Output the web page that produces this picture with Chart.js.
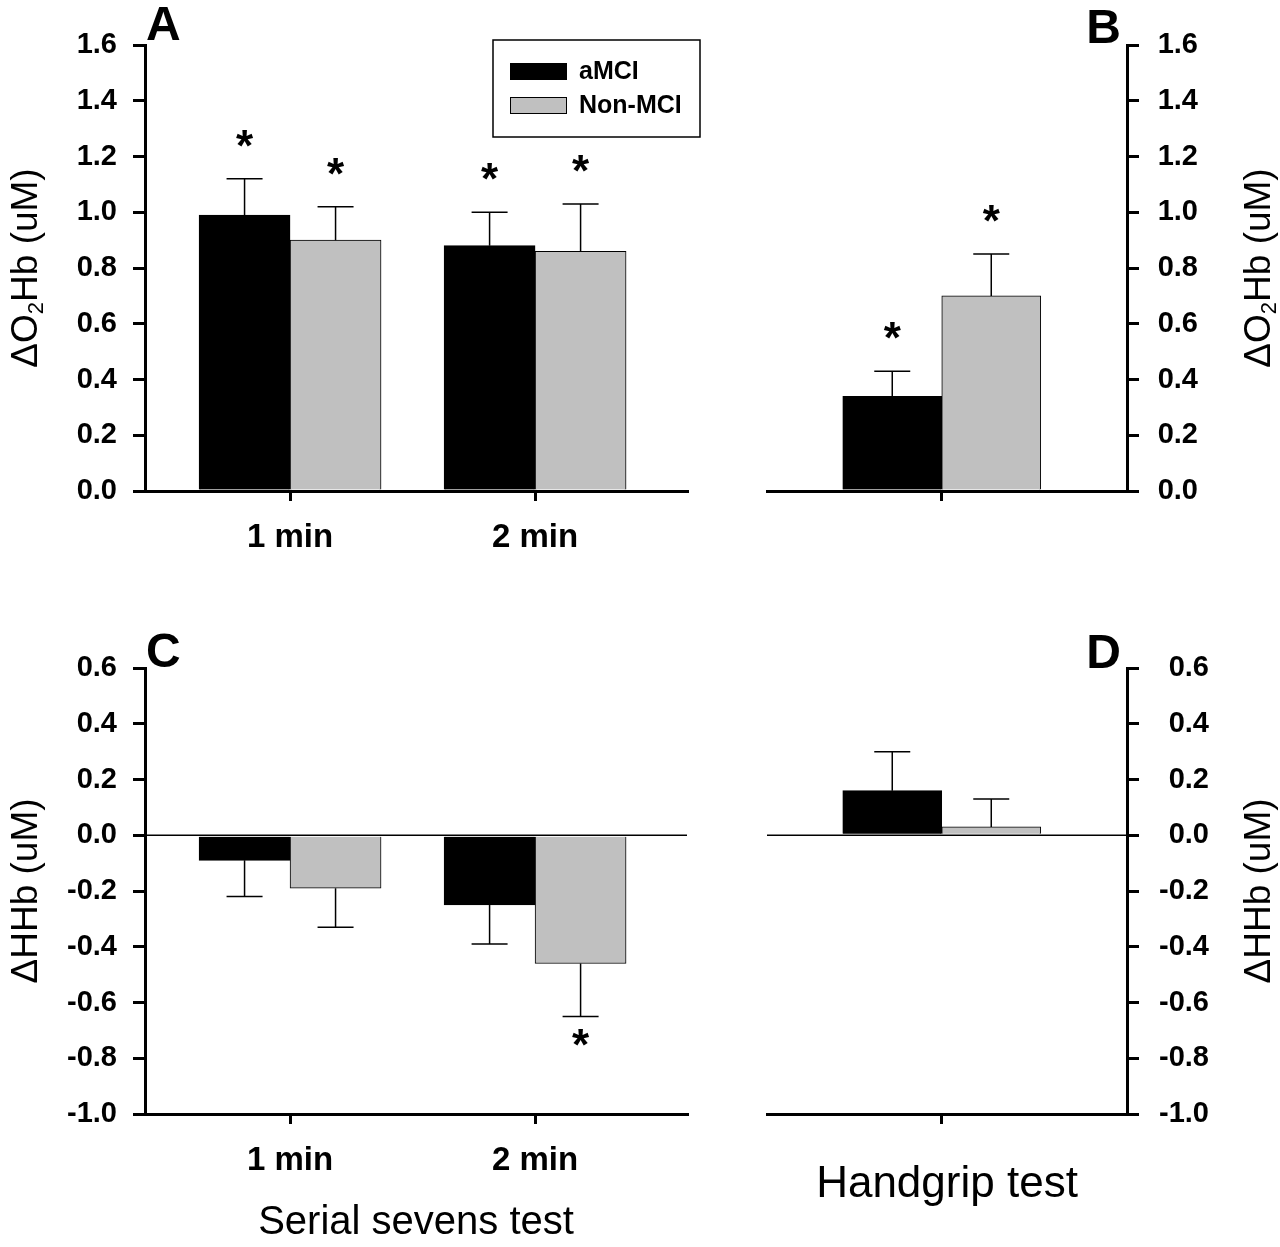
<!DOCTYPE html>
<html>
<head>
<meta charset="utf-8">
<script src="https://cdn.jsdelivr.net/npm/chart.js@4.4.0/dist/chart.umd.min.js"></script>
<style>
  body { margin: 0; background: #fff; }
  canvas { position: absolute; }
</style>
</head>
<body>
<canvas id="chartA" width="740" height="600" style="left:0;top:0"></canvas>
<canvas id="chartB" width="540" height="600" style="left:740px;top:0"></canvas>
<canvas id="chartC" width="740" height="647" style="left:0;top:600px"></canvas>
<canvas id="chartD" width="540" height="647" style="left:740px;top:600px"></canvas>
<script>
// groups
const groupNames = ['aMCI', 'Non-MCI'];
const groupColors = ['#000000', '#c0c0c0'];

// x categories
const serialLabels = ['1 min', '2 min'];
const serialPos = [1, 2];
const gripLabels = [''];
const gripPos = [1];

// y tick ranges
const o2Range = [0, 1.6];
const hhbRange = [-1.0, 0.6];
const tickStep = 0.2;

// A: ΔO2Hb, serial sevens test
const o2SerialAmci = [0.99, 0.88];
const o2SerialAmciSE = [0.13, 0.12];
const o2SerialAmciStar = [true, true];
const o2SerialNon = [0.90, 0.86];
const o2SerialNonSE = [0.12, 0.17];
const o2SerialNonStar = [true, true];

// B: ΔO2Hb, handgrip test
const o2GripAmci = [0.34];
const o2GripAmciSE = [0.09];
const o2GripAmciStar = [true];
const o2GripNon = [0.70];
const o2GripNonSE = [0.15];
const o2GripNonStar = [true];

// C: ΔHHb, serial sevens test
const hhbSerialAmci = [-0.09, -0.25];
const hhbSerialAmciSE = [0.13, 0.14];
const hhbSerialAmciStar = [false, false];
const hhbSerialNon = [-0.19, -0.46];
const hhbSerialNonSE = [0.14, 0.19];
const hhbSerialNonStar = [false, true];

// D: ΔHHb, handgrip test
const hhbGripAmci = [0.16];
const hhbGripAmciSE = [0.14];
const hhbGripAmciStar = [false];
const hhbGripNon = [0.03];
const hhbGripNonSE = [0.10];
const hhbGripNonStar = [false];

// texts
const o2Title = [{ t: 'ΔO' }, { t: '2', sub: true }, { t: 'Hb (uM)' }];
const hhbTitle = [{ t: 'ΔHHb (uM)' }];
const serialTitle = 'Serial sevens test';
const gripTitle = 'Handgrip test';

const FONT = "'Liberation Sans', Arial, Helvetica, sans-serif";

function toPoints(pos, vals) {
  return vals.map((v, i) => ({ x: pos[i], y: v }));
}

function fmt(v) {
  if (Math.abs(v) < 1e-9) v = 0;
  return v.toFixed(1);
}

// 縦軸タイトル（下から上へ）
function drawYTitle(ctx, parts, cx, cy) {
  const big = '37px ' + FONT;
  const small = '22px ' + FONT;
  ctx.save();
  ctx.translate(cx, cy);
  ctx.rotate(-Math.PI / 2);
  let total = 0;
  parts.forEach(p => {
    ctx.font = p.sub ? small : big;
    total += ctx.measureText(p.t).width;
  });
  let x = -total / 2;
  ctx.fillStyle = '#000';
  ctx.textAlign = 'left';
  ctx.textBaseline = 'alphabetic';
  parts.forEach(p => {
    ctx.font = p.sub ? small : big;
    ctx.fillText(p.t, x, p.sub ? 18 : 12);
    x += ctx.measureText(p.t).width;
  });
  ctx.restore();
}

const panelPlugin = {
  id: 'panel',
  beforeDatasetsDraw(chart, args, opts) {
    if (!opts.zeroLine) return;
    const { ctx, chartArea } = chart;
    const y = chart.scales.y.getPixelForValue(0);
    ctx.save();
    ctx.strokeStyle = '#000';
    ctx.lineWidth = 1.5;
    ctx.beginPath();
    ctx.moveTo(chartArea.left, y);
    ctx.lineTo(chartArea.right, y);
    ctx.stroke();
    ctx.restore();
  },
  afterDatasetsDraw(chart) {
    const { ctx } = chart;
    const yScale = chart.scales.y;
    ctx.save();
    chart.data.datasets.forEach((ds, i) => {
      const meta = chart.getDatasetMeta(i);
      meta.data.forEach((bar, j) => {
        const v = ds.data[j].y;
        const dir = v >= 0 ? 1 : -1;
        const yEnd = yScale.getPixelForValue(v + dir * ds.se[j]);
        ctx.strokeStyle = '#000';
        ctx.lineWidth = 1.5;
        ctx.beginPath();
        ctx.moveTo(bar.x, bar.y);
        ctx.lineTo(bar.x, yEnd);
        ctx.moveTo(bar.x - 18, yEnd);
        ctx.lineTo(bar.x + 18, yEnd);
        ctx.stroke();
        if (ds.star[j]) {
          ctx.fillStyle = '#000';
          ctx.font = 'bold 44px ' + FONT;
          ctx.textAlign = 'center';
          ctx.textBaseline = 'alphabetic';
          ctx.fillText('*', bar.x, dir > 0 ? yEnd - 18 : yEnd + 44);
        }
      });
    });
    ctx.restore();
  },
  afterDraw(chart, args, opts) {
    const { ctx, chartArea } = chart;
    ctx.save();
    // パネル記号
    ctx.fillStyle = '#000';
    ctx.font = 'bold 48px ' + FONT;
    ctx.textAlign = opts.letterAlign;
    ctx.textBaseline = 'alphabetic';
    ctx.fillText(opts.letter, opts.letterX, opts.letterY);
    ctx.restore();

    drawYTitle(ctx, opts.yTitle, opts.yTitleX, (chartArea.top + chartArea.bottom) / 2);

    // 凡例
    if (opts.legend) {
      ctx.save();
      ctx.strokeStyle = '#000';
      ctx.lineWidth = 1.5;
      ctx.strokeRect(493, 40, 207, 97);
      chart.data.datasets.forEach((ds, i) => {
        const y = 63 + i * 34;
        ctx.fillStyle = ds.backgroundColor;
        ctx.fillRect(510, y, 57, 17);
        ctx.lineWidth = 1;
        ctx.strokeRect(510.5, y + 0.5, 56, 16);
        ctx.fillStyle = '#000';
        ctx.font = 'bold 25px ' + FONT;
        ctx.textAlign = 'left';
        ctx.textBaseline = 'middle';
        ctx.fillText(ds.label, 579, y + 9);
      });
      ctx.restore();
    }
  }
};

function buildChart(id, o) {
  return new Chart(document.getElementById(id), {
    type: 'bar',
    data: {
      datasets: [
        {
          label: groupNames[0],
          data: toPoints(o.pos, o.amci),
          se: o.amciSE,
          star: o.amciStar,
          backgroundColor: groupColors[0],
          borderColor: '#000',
          borderWidth: 1
        },
        {
          label: groupNames[1],
          data: toPoints(o.pos, o.non),
          se: o.nonSE,
          star: o.nonStar,
          backgroundColor: groupColors[1],
          borderColor: '#000',
          borderWidth: 1
        }
      ]
    },
    options: {
      responsive: false,
      animation: false,
      devicePixelRatio: 1,
      layout: { padding: o.padding },
      datasets: { bar: { barThickness: o.barWidth } },
      plugins: {
        legend: { display: false },
        tooltip: { enabled: false },
        panel: o.panel
      },
      scales: {
        x: {
          type: 'linear',
          min: o.xMin,
          max: o.xMax,
          offset: false,
          afterBuildTicks: s => { s.ticks = o.pos.map(v => ({ value: v })); },
          afterFit: s => { s.height = o.xHeight; },
          ticks: {
            callback: (v, i) => o.xLabels[i] || '',
            font: { family: FONT, size: 33, weight: 'bold' },
            color: '#000',
            padding: 17,
            maxRotation: 0,
            autoSkip: false
          },
          grid: { drawOnChartArea: false, drawTicks: true, tickLength: 10, color: '#000', lineWidth: 3, offset: false },
          border: { display: true, color: '#000', width: 3 },
          title: o.xTitle ? {
            display: true,
            text: o.xTitle,
            font: { family: FONT, size: o.xTitleSize },
            color: '#000',
            padding: { top: 0, bottom: o.xTitlePad }
          } : { display: false }
        },
        y: {
          position: o.yPos,
          min: o.yRange[0],
          max: o.yRange[1],
          afterFit: s => { s.width = o.yWidth; },
          ticks: {
            stepSize: tickStep,
            callback: v => fmt(v),
            font: { family: FONT, size: 29, weight: 'bold' },
            color: '#000',
            padding: 16,
            crossAlign: o.yPos === 'right' ? 'far' : 'near'
          },
          grid: { drawOnChartArea: false, drawTicks: true, tickLength: 12, color: '#000', lineWidth: 3 },
          border: { display: true, color: '#000', width: 3 }
        }
      }
    },
    plugins: [panelPlugin]
  });
}

// A
buildChart('chartA', {
  pos: serialPos, xLabels: serialLabels,
  amci: o2SerialAmci, amciSE: o2SerialAmciSE, amciStar: o2SerialAmciStar,
  non: o2SerialNon, nonSE: o2SerialNonSE, nonStar: o2SerialNonStar,
  padding: { top: 45, right: 53, left: 0, bottom: 0 },
  barWidth: 91, xMin: 0.408, xMax: 2.62, xHeight: 109,
  yPos: 'left', yWidth: 145, yRange: o2Range,
  panel: { letter: 'A', letterX: 146, letterY: 40, letterAlign: 'left', yTitle: o2Title, yTitleX: 25, legend: true, zeroLine: false }
});

// B（右軸：ラベル右端 = 軸ボックス右端）
buildChart('chartB', {
  pos: gripPos, xLabels: gripLabels,
  amci: o2GripAmci, amciSE: o2GripAmciSE, amciStar: o2GripAmciStar,
  non: o2GripNon, nonSE: o2GripNonSE, nonStar: o2GripNonStar,
  padding: { top: 45, right: 82, left: 27, bottom: 0 },
  barWidth: 99, xMin: 0, xMax: 2.06, xHeight: 109,
  yPos: 'right', yWidth: 71, yRange: o2Range,
  panel: { letter: 'B', letterX: 381, letterY: 43, letterAlign: 'right', yTitle: o2Title, yTitleX: 518, legend: false, zeroLine: false }
});

// C
buildChart('chartC', {
  pos: serialPos, xLabels: serialLabels,
  amci: hhbSerialAmci, amciSE: hhbSerialAmciSE, amciStar: hhbSerialAmciStar,
  non: hhbSerialNon, nonSE: hhbSerialNonSE, nonStar: hhbSerialNonStar,
  padding: { top: 68, right: 53, left: 0, bottom: 0 },
  barWidth: 91, xMin: 0.408, xMax: 2.62, xHeight: 133,
  xTitle: serialTitle, xTitleSize: 40, xTitlePad: 0,
  yPos: 'left', yWidth: 145, yRange: hhbRange,
  panel: { letter: 'C', letterX: 146, letterY: 67, letterAlign: 'left', yTitle: hhbTitle, yTitleX: 25, legend: false, zeroLine: true }
});

// D
buildChart('chartD', {
  pos: gripPos, xLabels: gripLabels,
  amci: hhbGripAmci, amciSE: hhbGripAmciSE, amciStar: hhbGripAmciStar,
  non: hhbGripNon, nonSE: hhbGripNonSE, nonStar: hhbGripNonStar,
  padding: { top: 68, right: 71, left: 27, bottom: 0 },
  barWidth: 99, xMin: 0, xMax: 2.06, xHeight: 133,
  xTitle: gripTitle, xTitleSize: 44, xTitlePad: 36,
  yPos: 'right', yWidth: 82, yRange: hhbRange,
  panel: { letter: 'D', letterX: 381, letterY: 68, letterAlign: 'right', yTitle: hhbTitle, yTitleX: 518, legend: false, zeroLine: true }
});
</script>
</body>
</html>
